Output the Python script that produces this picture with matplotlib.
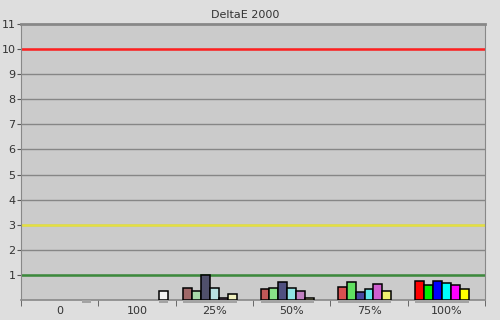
import matplotlib
matplotlib.use("Agg")
import matplotlib.pyplot as plt
import numpy as np

# ---------------------------------------------------
# DATA
# ---------------------------------------------------

groups = ["0", "100", "25%", "50%", "75%", "100%"]
nan = np.nan

# 7 slots per group: red, green, blue, cyan, magenta, yellow, grey
values = [
    [nan, nan, nan, nan, nan, nan, 0.0],
    [nan, nan, nan, nan, nan, nan, 0.36],
    [0.46, 0.35, 0.98, 0.46, 0.08, 0.23, nan],
    [0.43, 0.46, 0.70, 0.46, 0.35, 0.08, nan],
    [0.50, 0.70, 0.30, 0.43, 0.62, 0.35, nan],
    [0.74, 0.58, 0.74, 0.66, 0.58, 0.43, nan],
]

colors = [
    ["#a06868", "#a8d8a8", "#50506c", "#b8e0e0", "#a888a8", "#f0f0c0", "#808080"],
    ["#a06868", "#a8d8a8", "#50506c", "#b8e0e0", "#a888a8", "#f0f0c0", "#f4f4f4"],
    ["#a06868", "#a8d8a8", "#50506c", "#b8e0e0", "#a888a8", "#f0f0c0", "#f4f4f4"],
    ["#c05858", "#88e088", "#505080", "#90e4e4", "#c080c0", "#f0f0a8", "#f4f4f4"],
    ["#d85050", "#60e060", "#4848a0", "#60e8e8", "#d060d0", "#f0f070", "#f4f4f4"],
    ["#ff0000", "#00ee00", "#0000ff", "#00ffff", "#ff00ff", "#ffff00", "#f4f4f4"],
]

limits = [(10, "#ff2020"), (3, "#e4e040"), (1, "#3c8a3c")]

# ---------------------------------------------------
# FIGURE
# ---------------------------------------------------

fig = plt.figure(figsize=(5, 3.2), dpi=100, facecolor="#dedede")
ax = fig.add_axes([0.042, 0.0625, 0.928, 0.8625])
ax.set_facecolor("#cbcbcb")

ax.set_xlim(-0.5, len(groups) - 0.5)
ax.set_ylim(0, 11)

# grid
for y in range(1, 11):
    ax.axhline(y, color="#868686", lw=1, zorder=1)

for y, c in limits:
    ax.axhline(y, color=c, lw=1.8, zorder=2)

# bars
w = 0.115
for i, row in enumerate(values):
    for k, v in enumerate(row):
        if np.isnan(v):
            continue
        x = i + (k - 3) * w
        # shadow strip under the bar
        ax.bar(x, 0.12, w, bottom=-0.12, color="#a4a4a4", lw=0,
               clip_on=False, zorder=3)
        if v > 0:
            ax.bar(x, v, w, color=colors[i][k], edgecolor="black",
                   lw=1.1, zorder=4)

# ---------------------------------------------------
# AXES STYLE
# ---------------------------------------------------

for s in ["left", "bottom", "top", "right"]:
    ax.spines[s].set_color("#888888")
ax.spines["top"].set_linewidth(2)
ax.spines["bottom"].set_linewidth(1.2)

ax.set_yticks(range(1, 12))
ax.set_yticklabels([str(v) for v in range(1, 12)])
ax.set_xticks(range(len(groups)))
ax.set_xticklabels(groups)
ax.set_xticks(np.arange(-0.5, len(groups)), minor=True)

ax.tick_params(axis="y", length=3, color="#555555", labelsize=8,
               labelcolor="#333333", pad=1)
ax.tick_params(axis="x", which="major", length=0, labelsize=8,
               labelcolor="#333333", pad=4)
ax.tick_params(axis="x", which="minor", length=4, color="#555555")

fig.text(0.49, 0.953, "DeltaE 2000", ha="center", va="center",
         fontsize=8, color="#333333")

fig.savefig("out.png", dpi=100, facecolor=fig.get_facecolor())
